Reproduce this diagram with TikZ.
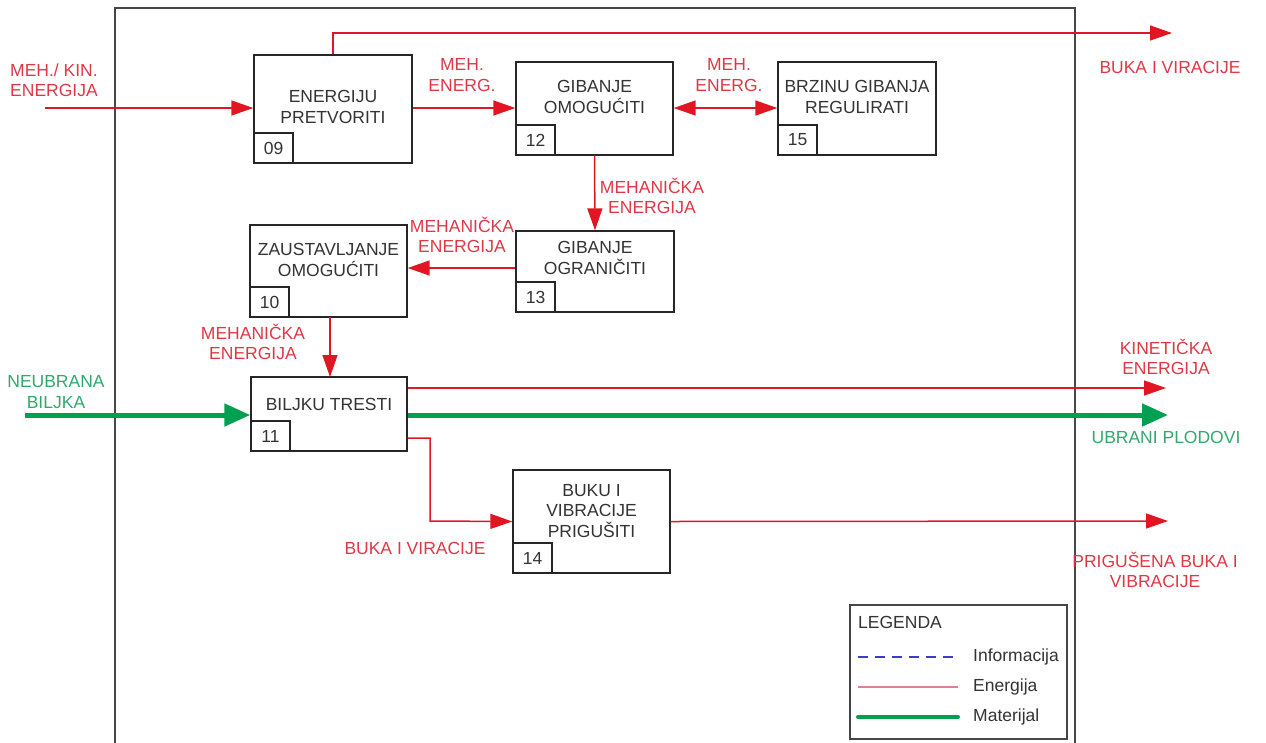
\documentclass[tikz,border=0pt]{standalone}
\usepackage{fontspec}
\setmainfont{Liberation Sans}
\usetikzlibrary{arrows.meta}
\definecolor{energ}{RGB}{226,22,34}
\definecolor{energtxt}{RGB}{222,56,70}
\definecolor{mater}{RGB}{0,160,80}
\definecolor{matertxt}{RGB}{50,168,110}
\definecolor{okvir}{RGB}{70,70,70}
\definecolor{leginfo}{RGB}{60,60,200}
\definecolor{legenerg}{RGB}{222,130,145}
\tikzset{
  vrh/.tip={Triangle[length=22pt,width=15pt]},
  blok/.style={draw=black!85,line width=1.4pt,fill=white,inner sep=0pt},
  blokt/.style={align=center,text=black!80,inner sep=0pt},
  broj/.style={draw=black!85,line width=1.4pt,minimum width=39pt,minimum height=30pt,inner sep=0pt,anchor=south west,text=black!80},
  etok/.style={draw=energ,line width=1.5pt,-vrh},
  mtok/.style={draw=mater,line width=5pt,-{Triangle[length=26pt,width=22pt]}},
  etxt/.style={text=energtxt,align=center,inner sep=0pt},
  mtxt/.style={text=matertxt,align=center,inner sep=0pt}
}
\begin{document}
\begin{tikzpicture}[x=1pt,y=-1pt,font=\fontsize{17.5}{20.5}\selectfont]
  \useasboundingbox (0,0) rectangle (1266,742);
  % okvir sustava
  \draw[okvir,line width=1.8pt] (115,745) -- (115,8) -- (1075,8) -- (1075,745);
  % funkcije
  \node[blok,minimum width=158pt,minimum height=108pt] (b09) at (333,109) {};
  \node[blok,minimum width=157pt,minimum height=93pt] (b12) at (594.5,108.5) {};
  \node[blok,minimum width=158pt,minimum height=93pt] (b15) at (857,108.5) {};
  \node[blok,minimum width=157pt,minimum height=92pt] (b10) at (328.5,271) {};
  \node[blok,minimum width=158pt,minimum height=81pt] (b13) at (595,271.5) {};
  \node[blok,minimum width=156pt,minimum height=74pt] (b11) at (329,414) {};
  \node[blok,minimum width=157pt,minimum height=103pt] (b14) at (591.5,521.5) {};
  \node[blokt] (t09) at (333,107) {ENERGIJU\\PRETVORITI};
  \node[blokt] (t12) at (594.5,97) {GIBANJE\\OMOGUĆITI};
  \node[blokt] (t15) at (857,97) {BRZINU GIBANJA\\REGULIRATI};
  \node[blokt] (t10) at (328.5,260) {ZAUSTAVLJANJE\\OMOGUĆITI};
  \node[blokt] (t13) at (595,258) {GIBANJE\\OGRANIČITI};
  \node[blokt] (t11) at (329,404) {BILJKU TRESTI};
  \node[blokt] (t14) at (591.5,511) {BUKU I\\VIBRACIJE\\PRIGUŠITI};
  \node[broj] (n09) at (b09.south west) {09};
  \node[broj] (n12) at (b12.south west) {12};
  \node[broj] (n15) at (b15.south west) {15};
  \node[broj] (n10) at (b10.south west) {10};
  \node[broj] (n13) at (b13.south west) {13};
  \node[broj] (n11) at (b11.south west) {11};
  \node[broj] (n14) at (b14.south west) {14};
  % slobodni krajevi tokova
  \coordinate (ulE) at (45,108);
  \coordinate (ulM) at (25,415);
  \coordinate (izB) at (1172,33);
  \coordinate (izK) at (1166,388);
  \coordinate (izM) at (1168,415);
  \coordinate (izP) at (1168,521);
  % energija
  \draw[etok] (ulE) -- (ulE -| b09.west);
  \draw[etok] (b09.east |- 0,108) -- (b12.west |- 0,108);
  \draw[etok,vrh-vrh] (b12.east |- 0,108) -- (b15.west |- 0,108);
  \draw[etok] (b09.north) -- (333,33) -- (izB);
  \draw[etok] (b12.south) -- (b13.north);
  \draw[etok] (b13.west |- 0,268) -- (b10.east |- 0,268);
  \draw[etok] (330,317) -- (330,377);
  \draw[etok] (b11.east |- izK) -- (izK);
  \draw[etok] (b11.east |- 0,438) -- (430,438) -- (430,521) -- (b14.west);
  \draw[etok] (b14.east) -- (izP);
  % materijal
  \draw[mtok] (ulM) -- (ulM -| b11.west);
  \draw[mtok] (b11.east |- izM) -- (izM);
  % natpisi tokova
  \node[etxt,align=left,anchor=west] (l1) at (10,80) {MEH./ KIN.\\ENERGIJA};
  \node[etxt] (l2) at (462,75) {MEH.\\ENERG.};
  \node[etxt] (l3) at (729,75) {MEH.\\ENERG.};
  \node[etxt] (l4) at (1170,67) {BUKA I VIRACIJE};
  \node[etxt] (l5) at (652,196) {MEHANIČKA\\ENERGIJA};
  \node[etxt] (l6) at (462,235) {MEHANIČKA\\ENERGIJA};
  \node[etxt] (l7) at (253,342) {MEHANIČKA\\ENERGIJA};
  \node[etxt] (l8) at (1166,357) {KINETIČKA\\ENERGIJA};
  \node[mtxt] (l9) at (56,392) {NEUBRANA\\BILJKA};
  \node[mtxt] (l10) at (1166,437) {UBRANI PLODOVI};
  \node[etxt] (l11) at (415,548) {BUKA I VIRACIJE};
  \node[etxt] (l12) at (1155,570) {PRIGUŠENA BUKA I\\VIBRACIJE};
  % legenda
  \draw[okvir,line width=1.4pt,fill=white] (850,605) rectangle (1067,739);
  \node[anchor=west,text=black!80,inner sep=0pt] (leg) at (858,622) {LEGENDA};
  \draw[leginfo,line width=1.5pt,dash pattern=on 10pt off 7pt] (858,657) -- (953,657);
  \draw[legenerg,line width=1.8pt] (858,687) -- (958,687);
  \draw[mater,line width=4pt,line cap=round] (858,717) -- (958,717);
  \node[anchor=west,text=black!80,inner sep=0pt] (li) at (973,657) {Informacija};
  \node[anchor=west,text=black!80,inner sep=0pt] (le) at (973,687) {Energija};
  \node[anchor=west,text=black!80,inner sep=0pt] (lm) at (973,717) {Materijal};
\end{tikzpicture}
\end{document}
